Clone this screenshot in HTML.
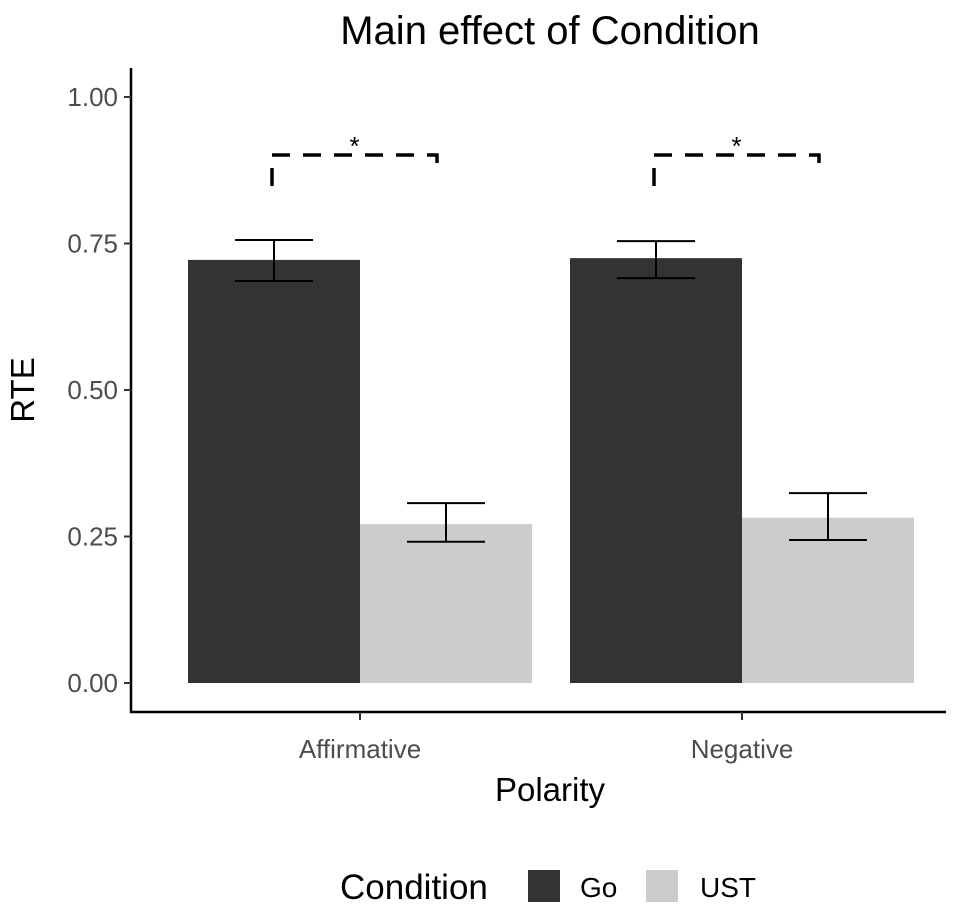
<!DOCTYPE html>
<html><head><meta charset="utf-8"><style>
body{margin:0;background:#fff}
svg{display:block;font-family:"Liberation Sans",Arial,sans-serif}
</style></head><body>
<svg id="chart" width="974" height="906" viewBox="0 0 974 906">
<text x="550" y="44" font-size="40" text-anchor="middle" fill="#000">Main effect of Condition</text>
<g id="plot"></g>
<text x="550" y="801" font-size="33" text-anchor="middle" fill="#000">Polarity</text>
<text transform="translate(34,390) rotate(-90)" font-size="33" text-anchor="middle" fill="#000">RTE</text>
<g>
<text x="340" y="899" font-size="35" fill="#000">Condition</text>
<rect x="528" y="870" width="32" height="32" fill="#333333"/>
<text x="580" y="897" font-size="28" fill="#000">Go</text>
<rect x="646" y="870" width="32" height="32" fill="#cccccc"/>
<text x="700" y="897" font-size="28" fill="#000">UST</text>
</g>
</svg>
<script>
const categories = ["Affirmative", "Negative"];
const goValues = [0.722, 0.725];
const goLower = [0.686, 0.691];
const goUpper = [0.756, 0.754];
const ustValues = [0.271, 0.282];
const ustLower = [0.241, 0.244];
const ustUpper = [0.307, 0.324];
const yTicks = [0, 0.25, 0.5, 0.75, 1.0];
const yTickLabels = ["0.00", "0.25", "0.50", "0.75", "1.00"];
const sigLabels = ["*", "*"];

const NS = "http://www.w3.org/2000/svg";
const g = document.getElementById("plot");
const y = v => 683 - v * 586;
const xc = i => 360 + i * 382;
const halfBand = 172;
function el(tag, attrs, text) {
  const e = document.createElementNS(NS, tag);
  for (const k in attrs) e.setAttribute(k, attrs[k]);
  if (text !== undefined) e.textContent = text;
  g.appendChild(e);
  return e;
}
let a = el("line", {x1:131, y1:68, x2:131, y2:713, stroke:"#000", "stroke-width":2.5});


a = el("line", {x1:130, y1:712, x2:946, y2:712, stroke:"#000", "stroke-width":2.5});


yTicks.forEach((t, i) => {
  const tk = el("line", {x1:124, y1:y(t), x2:131, y2:y(t), stroke:"#333", "stroke-width":2});
  
  
  const lb = el("text", {x:118, y:y(t)+9, "font-size":26, "text-anchor":"end", fill:"#4d4d4d"}, yTickLabels[i]);
  
  
});
categories.forEach((c, i) => {
  const cx = xc(i);
  const b1 = el("rect", {x:cx-halfBand, y:y(goValues[i]), width:halfBand, height:y(0)-y(goValues[i]), fill:"#333333"});
  
  
  const b2 = el("rect", {x:cx, y:y(ustValues[i]), width:halfBand, height:y(0)-y(ustValues[i]), fill:"#cccccc"});
  
  
  [[cx-halfBand/2, goLower[i], goUpper[i]], [cx+halfBand/2, ustLower[i], ustUpper[i]]].forEach(([ex, lo, hi]) => {
    const p = el("path", {d:`M${ex-39},${y(hi)}H${ex+39}M${ex},${y(hi)}V${y(lo)}M${ex-39},${y(lo)}H${ex+39}`, stroke:"#000", "stroke-width":2, fill:"none"});
    
    
  });
  const tk = el("line", {x1:cx, y1:712, x2:cx, y2:720, stroke:"#333", "stroke-width":2});
  
  
  const lb = el("text", {x:cx, y:758, "font-size":26, "text-anchor":"middle", fill:"#4d4d4d"}, c);
  
  
  const l = cx - halfBand/2 - 2, r = cx + halfBand/2 - 9;
  const br = el("path", {d:`M${l},186V155H${r}V172`, stroke:"#000", "stroke-width":3.5, fill:"none", "stroke-dasharray":"18,13"});
  
  
  const st = el("text", {x:(l+r)/2, y:155, "font-size":26, "text-anchor":"middle", fill:"#000"}, sigLabels[i]);
  
  
});
</script>
</body></html>
